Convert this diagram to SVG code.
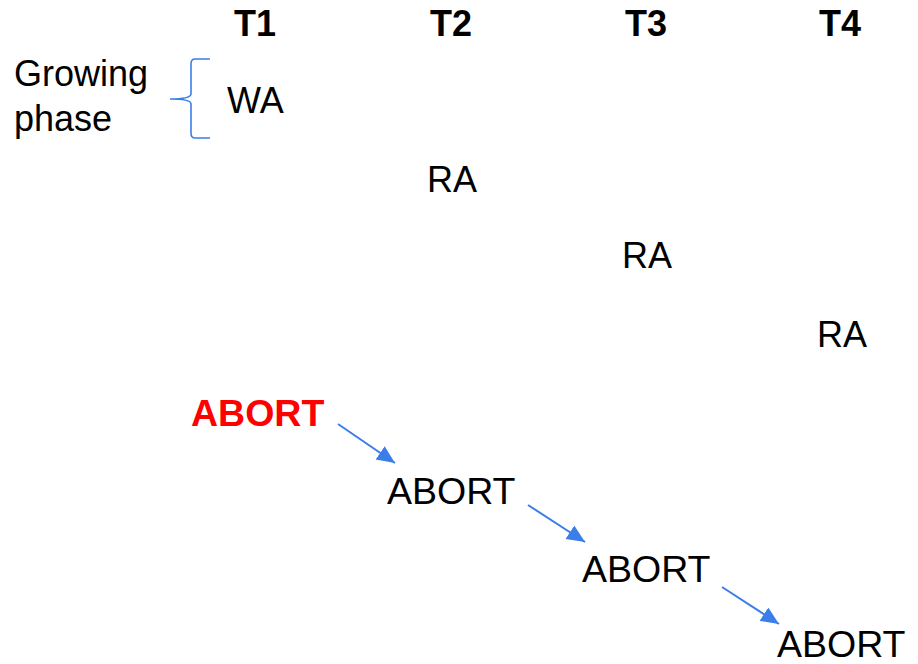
<svg xmlns="http://www.w3.org/2000/svg" width="918" height="664" viewBox="0 0 918 664">
  <style>
    text { font-family: "Liberation Sans", Arial, sans-serif; font-size: 36px; fill: #000; }
    .head { font-weight: bold; }
    .abort { font-size: 37.5px; }
    .abort-start { font-size: 37.5px; font-weight: bold; fill: #ff0000; }
    .brace { fill: none; stroke: #3b7eea; stroke-width: 1.6; }
    .link { fill: none; stroke: #3b7eea; stroke-width: 2; }
  </style>
  <defs>
    <marker id="arrow" markerUnits="userSpaceOnUse" markerWidth="20" markerHeight="18" refX="18" refY="8" orient="auto">
      <path d="M0,0 L18,8 L0,16 Z" fill="#3b7eea"/>
    </marker>
  </defs>
  <rect width="918" height="664" fill="#fff"/>

  <!-- transaction column headers -->
  <g id="headers">
    <text class="head" x="234" y="36">T1</text>
    <text class="head" x="430" y="36">T2</text>
    <text class="head" x="625" y="36">T3</text>
    <text class="head" x="819" y="36">T4</text>
  </g>

  <!-- growing phase label with brace -->
  <g id="growing-phase">
    <text x="14" y="86">Growing</text>
    <text x="14" y="131">phase</text>
    <path class="brace" d="M210,59 L195,59 Q191,59 191,64 L191,94 Q191,99 170,99 Q191,99 191,104 L191,133 Q191,138 195,138 L210,138"/>
  </g>

  <g id="wa-t1"><text x="227" y="113">WA</text></g>
  <g id="ra-t2"><text x="427" y="192">RA</text></g>
  <g id="ra-t3"><text x="622" y="268">RA</text></g>
  <g id="ra-t4"><text x="817" y="347">RA</text></g>

  <g id="abort-t1"><text class="abort-start" x="191" y="426">ABORT</text></g>
  <g id="abort-t2"><text class="abort" x="387" y="504">ABORT</text></g>
  <g id="abort-t3"><text class="abort" x="582" y="582">ABORT</text></g>
  <g id="abort-t4"><text class="abort" x="777" y="657">ABORT</text></g>

  <!-- cascading abort connectors -->
  <g id="connectors">
    <line class="link" x1="338" y1="424" x2="395" y2="463" marker-end="url(#arrow)"/>
    <line class="link" x1="528" y1="505" x2="585" y2="542" marker-end="url(#arrow)"/>
    <line class="link" x1="722" y1="587" x2="779" y2="624" marker-end="url(#arrow)"/>
  </g>
</svg>
